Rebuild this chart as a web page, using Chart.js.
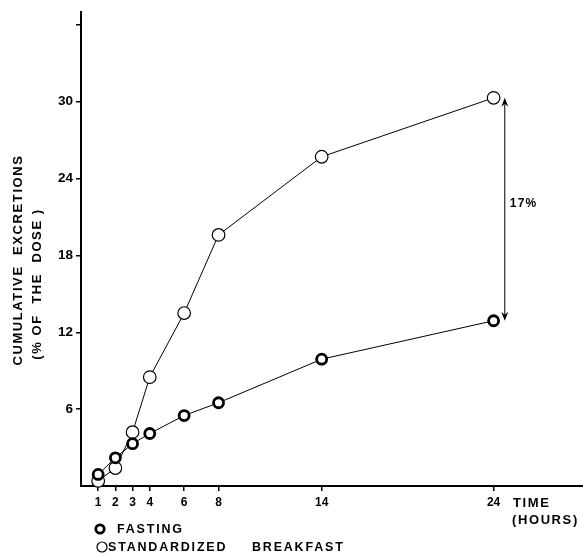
<!DOCTYPE html>
<html>
<head>
<meta charset="utf-8">
<script src="https://cdn.jsdelivr.net/npm/chart.js@4.4.0/dist/chart.umd.min.js"></script>
<style>
  html, body { margin: 0; padding: 0; background: #fff; }
  #wrap { width: 583px; height: 554px; position: relative; }
</style>
</head>
<body>
<div id="wrap"><canvas id="c" width="583" height="554"></canvas></div>
<script>
// Sampling times (hours) and cumulative excretion (% of the dose)
const hours = [1, 2, 3, 4, 6, 8, 14, 24];
const fasting = [0.9, 2.2, 3.3, 4.1, 5.5, 6.5, 9.9, 12.9];
const breakfast = [0.4, 1.4, 4.2, 8.5, 13.5, 19.6, 25.7, 30.3];

// Axis ticks
const xTicks = [1, 2, 3, 4, 6, 8, 14, 24];
const yTicks = [6, 12, 18, 24, 30, 36];
const yLabelled = [6, 12, 18, 24, 30];

// Texts
const seriesNames = ['FASTING', 'STANDARDIZED BREAKFAST'];
const yTitle = ['CUMULATIVE  EXCRETIONS', '(% OF  THE  DOSE )'];
const xTitle = ['TIME', '(HOURS)'];
const differenceLabel = '17%';

const FONT = '"Liberation Sans", Arial, Helvetica, sans-serif';
Chart.defaults.font.family = FONT;
Chart.defaults.color = '#000';

function pts(ys) { return hours.map((h, i) => ({ x: h, y: ys[i] })); }

const decorations = {
  id: 'decorations',
  afterDraw(chart) {
    const ctx = chart.ctx;
    const xs = chart.scales.x, ys = chart.scales.y;
    ctx.save();
    ctx.fillStyle = '#000';
    ctx.strokeStyle = '#000';

    // Double-headed arrow between the two 24 h values
    const last = hours.length - 1;
    const ax = xs.getPixelForValue(24.65);
    const yTop = ys.getPixelForValue(breakfast[last]);
    const yBot = ys.getPixelForValue(fasting[last]);
    ctx.lineWidth = 1;
    ctx.beginPath();
    ctx.moveTo(ax, yTop + 4);
    ctx.lineTo(ax, yBot - 4);
    ctx.stroke();
    const head = (tipY, dir) => {
      ctx.beginPath();
      ctx.moveTo(ax, tipY);
      ctx.lineTo(ax - 3.5, tipY + dir * 9);
      ctx.lineTo(ax, tipY + dir * 6);
      ctx.lineTo(ax + 3.5, tipY + dir * 9);
      ctx.closePath();
      ctx.fill();
    };
    head(yTop, 1);
    head(yBot, -1);

    ctx.font = 'bold 12px ' + FONT;
    ctx.letterSpacing = '1.2px';
    ctx.textAlign = 'left';
    ctx.textBaseline = 'middle';
    ctx.fillText(differenceLabel, ax + 5, ys.getPixelForValue(22));

    // x-axis title
    ctx.font = 'bold 13px ' + FONT;
    ctx.letterSpacing = '1.6px';
    ctx.fillText(xTitle[0], 513, 503);
    ctx.fillText(xTitle[1], 512, 520);

    // y-axis title (rotated)
    ctx.letterSpacing = '1.6px';
    ctx.textAlign = 'center';
    ctx.save();
    ctx.translate(18, 260);
    ctx.rotate(-Math.PI / 2);
    ctx.fillText(yTitle[0], 0, 0);
    ctx.restore();
    ctx.save();
    ctx.translate(37, 284);
    ctx.rotate(-Math.PI / 2);
    ctx.fillText(yTitle[1], 0, 0);
    ctx.restore();

    // legend
    ctx.font = 'bold 12.5px ' + FONT;
    ctx.letterSpacing = '1.8px';
    ctx.textAlign = 'left';
    const ds = chart.data.datasets;
    ctx.beginPath();
    ctx.arc(100, 529, 4.2, 0, Math.PI * 2);
    ctx.fillStyle = '#fff';
    ctx.fill();
    ctx.lineWidth = ds[0].pointBorderWidth;
    ctx.stroke();
    ctx.beginPath();
    ctx.arc(102, 547, 5, 0, Math.PI * 2);
    ctx.fill();
    ctx.lineWidth = ds[1].pointBorderWidth;
    ctx.stroke();
    ctx.fillStyle = '#000';
    ctx.fillText(seriesNames[0], 117, 530);
    const words = seriesNames[1].split(' ');
    ctx.fillText(words[0], 108, 548);
    ctx.fillText(words[1], 252, 548);
    ctx.restore();
  }
};

new Chart(document.getElementById('c'), {
  type: 'line',
  data: {
    datasets: [
      {
        label: seriesNames[0],
        data: pts(fasting),
        borderColor: '#000',
        borderWidth: 1,
        pointRadius: 5,
        pointBorderWidth: 2.8,
        pointBackgroundColor: '#fff',
        pointBorderColor: '#000',
        tension: 0,
        clip: false
      },
      {
        label: seriesNames[1],
        data: pts(breakfast),
        borderColor: '#000',
        borderWidth: 1,
        pointRadius: 6.3,
        pointBorderWidth: 1.2,
        pointBackgroundColor: '#fff',
        pointBorderColor: '#000',
        tension: 0,
        clip: false
      }
    ]
  },
  options: {
    responsive: false,
    animation: false,
    events: [],
    layout: { autoPadding: false, padding: { top: 12, right: 0, left: 0, bottom: 0 } },
    plugins: { legend: { display: false }, tooltip: { enabled: false } },
    scales: {
      x: {
        type: 'linear',
        min: 0,
        max: 29.2,
        afterBuildTicks: s => { s.ticks = xTicks.map(v => ({ value: v })); },
        afterFit: s => { s.height = 68; s.paddingLeft = 0; s.paddingRight = 0; },
        grid: { display: true, drawOnChartArea: false, drawTicks: true, tickLength: 5, color: '#000', lineWidth: 1.5 },
        border: { display: true, color: '#000', width: 2 },
        ticks: { color: '#000', font: { size: 12, weight: 'bold' }, padding: 4, maxRotation: 0, autoSkip: false }
      },
      y: {
        type: 'linear',
        min: 0,
        max: 37,
        afterBuildTicks: s => { s.ticks = yTicks.map(v => ({ value: v })); },
        afterFit: s => { s.width = 81; s.paddingTop = 0; s.paddingBottom = 0; },
        grid: { display: true, drawOnChartArea: false, drawTicks: true, tickLength: 5, color: '#000', lineWidth: 1.5 },
        border: { display: true, color: '#000', width: 2 },
        ticks: {
          color: '#000',
          font: { size: 13.5, weight: 'bold' },
          padding: 3,
          autoSkip: false,
          callback: v => (yLabelled.includes(v) ? String(v) : '')
        }
      }
    }
  },
  plugins: [decorations]
});
</script>
</body>
</html>
